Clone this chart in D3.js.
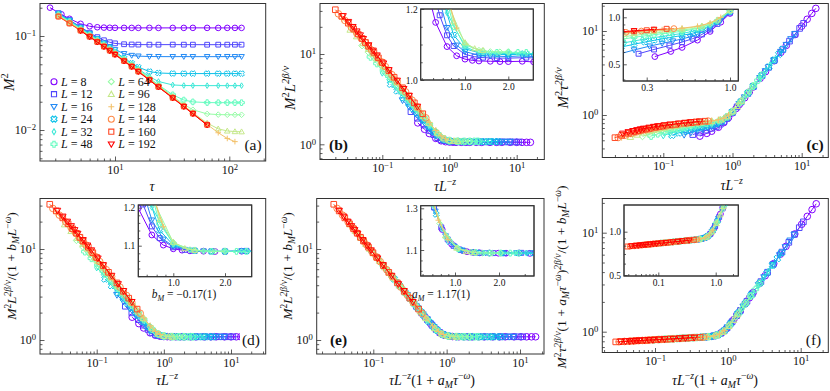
<!DOCTYPE html>
<html>
<head>
<meta charset="utf-8">
<script src="https://cdn.jsdelivr.net/npm/d3@7"></script>
<style>
body { margin: 0; background: #fff; }
svg, svg text, svg tspan { font-family: "Liberation Serif", "DejaVu Serif", serif !important; }
svg text { fill: #111; }
</style>
</head>
<body>
<script>
// raw data: M^2 against tau for each L
var L_values = [8, 12, 16, 24, 32, 48, 64, 96, 128, 144, 160, 192];
var marker_types = ['o', 's', 'v', 'X', 'd', 'P', 'D', '^', '+', 'o', 's', 'v'];
var tau_L8 = [2.7, 3.4, 4, 5, 6, 7, 8, 9, 10, 12, 14, 16, 20, 24, 32, 40, 48, 64, 80, 96, 112, 128];
var tau_all = [3.2, 4, 5, 6, 7, 8, 9, 10, 12, 14, 16, 20, 24, 32, 40, 48, 64, 80, 96, 112, 128];
var tau_L192 = [5, 6, 7, 8, 9, 10, 12, 14, 16, 20, 24, 32, 40, 48, 64];

var m2_L8 = [0.2002, 0.1701, 0.1525, 0.1348, 0.1269, 0.1239, 0.1228, 0.1224, 0.1222, 0.1221, 0.1220, 0.1220, 0.1221, 0.1219, 0.1220, 0.1220, 0.1221, 0.1220, 0.1219, 0.1220, 0.1220, 0.1220];
var m2_L12 = [0.1751, 0.1480, 0.1246, 0.1084, 0.0972, 0.0901, 0.0858, 0.0835, 0.0817, 0.0812, 0.0810, 0.0809, 0.0809, 0.0810, 0.0809, 0.0809, 0.0808, 0.0809, 0.0809, 0.0809, 0.0809];
var m2_L16 = [0.1739, 0.1469, 0.1233, 0.1064, 0.0938, 0.0843, 0.0770, 0.0715, 0.0649, 0.0621, 0.0611, 0.06048, 0.06037, 0.0603, 0.0604, 0.0603, 0.0603, 0.0603, 0.0604, 0.0603, 0.0603];
var m2_L24 = [0.1720, 0.1453, 0.1218, 0.1051, 0.0924, 0.0826, 0.0747, 0.0682, 0.0583, 0.0514, 0.04665, 0.04187, 0.04043, 0.0399, 0.03984, 0.03983, 0.03985, 0.03983, 0.03982, 0.03983, 0.03983];
var m2_L32 = [0.1705, 0.1440, 0.1208, 0.1042, 0.0916, 0.0818, 0.0740, 0.0675, 0.0575, 0.05018, 0.04458, 0.03698, 0.03281, 0.03015, 0.02974, 0.02966, 0.02964, 0.02965, 0.02964, 0.02963, 0.02964];
var m2_L48 = [0.1682, 0.1421, 0.1192, 0.1028, 0.0904, 0.0807, 0.0730, 0.0666, 0.0567, 0.04942, 0.04377, 0.03569, 0.03021, 0.02369, 0.02084, 0.01991, 0.01958, 0.01953, 0.01954, 0.01953, 0.01953];
var m2_L64 = [0.1665, 0.1406, 0.1180, 0.1017, 0.0895, 0.0799, 0.0723, 0.0659, 0.0561, 0.04892, 0.04333, 0.03529, 0.02979, 0.02284, 0.01874, 0.01642, 0.01483, 0.01458, 0.01453, 0.01452, 0.01452];
var m2_L96 = [0.1641, 0.1386, 0.1163, 0.1003, 0.0882, 0.0788, 0.0712, 0.0650, 0.0553, 0.04821, 0.0427, 0.03478, 0.02935, 0.02246, 0.01816, 0.01529, 0.01185, 0.01029, 0.00977, 0.00962, 0.00958];
var m2_L128 = [0.1623, 0.1371, 0.1150, 0.0992, 0.0873, 0.0779, 0.0705, 0.0643, 0.0547, 0.0477, 0.04225, 0.03441, 0.02904, 0.02219, 0.01796, 0.0151, 0.01146, 0.00935, 0.00813, 0.00752];
var m2_L144 = [0.1616, 0.1365, 0.1145, 0.0987, 0.0869, 0.0776, 0.0701, 0.0640, 0.0545, 0.0475, 0.04205, 0.03425, 0.0289, 0.02209, 0.01788, 0.01502, 0.01139];
var m2_L160 = [0.1610, 0.1360, 0.1141, 0.0984, 0.0865, 0.0773, 0.0699, 0.0637, 0.0543, 0.0473, 0.0419, 0.03412, 0.02879, 0.02201, 0.01781, 0.01497, 0.01135];
var m2_L192 = [0.1133, 0.0977, 0.0859, 0.0767, 0.0694, 0.0633, 0.0539, 0.0470, 0.0416, 0.03388, 0.02859, 0.02185, 0.01768, 0.01486, 0.01126];
var m2_values = [m2_L8, m2_L12, m2_L16, m2_L24, m2_L32, m2_L48, m2_L64, m2_L96, m2_L128, m2_L144, m2_L160, m2_L192];
var tau_lists = [tau_L8, tau_all, tau_all, tau_all, tau_all, tau_all, tau_all, tau_all, tau_all, tau_all, tau_all, tau_L192];

// scaling exponents and correction amplitudes used in panels (b)-(f)
var twoBetaNu = 1.036;
var zExp = 1.0;
var omega = 0.83;
var aM = 1.17;
var bM = -0.17;

var FONT = '"Liberation Serif", "DejaVu Serif", serif';
var W = 830, H = 391;
var svg = d3.select('body').append('svg')
    .attr('width', W)
    .attr('height', H)
    .attr('font-family', FONT);
var defs = svg.append('defs');

// matplotlib-like "rainbow" colormap
var rainbow = function(t) {
    var r = Math.min(1, Math.abs(2 * t - 0.5));
    var g = Math.sin(Math.PI * t);
    var b = Math.cos(Math.PI * t / 2);
    return d3.rgb(r * 255, g * 255, b * 255).formatHex();
};
var color = d3.scaleOrdinal()
    .domain(L_values)
    .range(L_values.map(function(d, i) { return rainbow(i / (L_values.length - 1)); }));

var series = L_values.map(function(L, i) {
    var m2 = m2_values[i];
    var tau = tau_lists[i].slice(0, m2.length);
    return {
        L: L,
        marker: marker_types[i],
        pts: tau.map(function(t, k) { return {tau: t, m2: m2[k]}; })
    };
});

var markerPath = function(type, s) {
    var w = s * 0.38;
    if (type === 'o') return 'M' + s + ',0A' + s + ',' + s + ',0,1,1,' + (-s) + ',0A' + s + ',' + s + ',0,1,1,' + s + ',0Z';
    if (type === 's') { var q = s * 0.85; return 'M' + (-q) + ',' + (-q) + 'H' + q + 'V' + q + 'H' + (-q) + 'Z'; }
    if (type === 'v') return 'M0,' + s + 'L' + (-s) + ',' + (-s * 0.75) + 'L' + s + ',' + (-s * 0.75) + 'Z';
    if (type === '^') return 'M0,' + (-s) + 'L' + (-s) + ',' + (s * 0.75) + 'L' + s + ',' + (s * 0.75) + 'Z';
    if (type === 'd') return 'M0,' + (-s) + 'L' + (s * 0.6) + ',0L0,' + s + 'L' + (-s * 0.6) + ',0Z';
    if (type === 'D') return 'M0,' + (-s) + 'L' + s + ',0L0,' + s + 'L' + (-s) + ',0Z';
    if (type === '+') return 'M' + (-s) + ',0H' + s + 'M0,' + (-s) + 'V' + s;
    // plus-filled outline, rotated 45 degrees for 'X'
    var p = [[-w, -s], [w, -s], [w, -w], [s, -w], [s, w], [w, w], [w, s], [-w, s], [-w, w], [-s, w], [-s, -w], [-w, -w]];
    if (type === 'X') {
        var c = Math.SQRT1_2;
        p = p.map(function(v) { return [(v[0] - v[1]) * c * 1.05, (v[0] + v[1]) * c * 1.05]; });
    }
    return 'M' + p.map(function(v) { return v[0].toFixed(2) + ',' + v[1].toFixed(2); }).join('L') + 'Z';
};

// build a scale from two tick positions
var makeScale = function(isLog, v1, p1, v2, p2, pA, pB) {
    var f = isLog ? Math.log10 : function(v) { return v; };
    var inv = isLog ? function(v) { return Math.pow(10, v); } : function(v) { return v; };
    var k = (f(v2) - f(v1)) / (p2 - p1);
    var dA = inv(f(v1) + (pA - p1) * k);
    var dB = inv(f(v1) + (pB - p1) * k);
    return (isLog ? d3.scaleLog() : d3.scaleLinear()).domain([dA, dB]).range([pA, pB]);
};

// math-style text: parts are [text, flags]; flags: i italic, ^ superscript, _ subscript
var mathText = function(textSel, parts, size) {
    var cur = 0;
    textSel.style('font-family', FONT);
    parts.forEach(function(p) {
        var fl = p[1] || '';
        var small = fl.indexOf('^') >= 0 || fl.indexOf('_') >= 0;
        var target = fl.indexOf('^') >= 0 ? -0.4 * size : (fl.indexOf('_') >= 0 ? 0.22 * size : 0);
        textSel.append('tspan')
            .attr('dy', (target - cur).toFixed(2))
            .style('font-size', (small ? 0.7 * size : size) + 'px')
            .style('font-style', fl.indexOf('i') >= 0 ? 'italic' : 'normal')
            .text(p[0]);
        cur = target;
    });
};

var decades = function(scale) {
    var d = scale.domain(), lo = Math.min(d[0], d[1]), hi = Math.max(d[0], d[1]);
    var major = [], minor = [];
    for (var e = Math.floor(Math.log10(lo)); e <= Math.ceil(Math.log10(hi)); e++) {
        for (var m = 1; m < 10; m++) {
            var v = m * Math.pow(10, e);
            if (v < lo || v > hi) continue;
            if (m === 1) major.push(v); else minor.push(v);
        }
    }
    return {major: major, minor: minor};
};

var powLabel = function(sel) {
    sel.each(function(d) {
        var t = d3.select(this);
        var e = Math.round(Math.log10(d));
        t.text('');
        t.append('tspan').text('10');
        t.append('tspan').attr('dy', '-0.45em').style('font-size', '0.72em')
            .text(e < 0 ? '\u2212' + (-e) : '' + e);
    });
};

var drawTicks = function(g, box, xs, ys, xt, yt, opt) {
    var ax = g.append('g').attr('transform', 'translate(0,' + box[3] + ')');
    ax.call(d3.axisBottom(xs).tickValues(xt.minor).tickSize(-opt.minorLen).tickFormat(''));
    var axM = g.append('g').attr('transform', 'translate(0,' + box[3] + ')');
    axM.call(d3.axisBottom(xs).tickValues(xt.major).tickSize(-opt.majorLen).tickPadding(opt.pad).tickFormat(xt.fmt || function() { return ''; }));
    var ay = g.append('g').attr('transform', 'translate(' + box[0] + ',0)');
    ay.call(d3.axisLeft(ys).tickValues(yt.minor).tickSize(-opt.minorLen).tickFormat(''));
    var ayM = g.append('g').attr('transform', 'translate(' + box[0] + ',0)');
    ayM.call(d3.axisLeft(ys).tickValues(yt.major).tickSize(-opt.majorLen).tickPadding(opt.pad).tickFormat(yt.fmt || function() { return ''; }));
    [ax, axM, ay, ayM].forEach(function(a) {
        a.attr('font-family', FONT);
        a.select('.domain').remove();
        a.selectAll('line').attr('stroke', '#333').attr('stroke-width', 0.8);
        a.selectAll('text').style('font-size', opt.font + 'px').style('font-family', FONT).attr('fill', '#111');
    });
    if (!xt.fmt) powLabel(axM.selectAll('text'));
    if (!yt.fmt) powLabel(ayM.selectAll('text'));
};

var clipCount = 0;
var drawData = function(g, box, xs, ys, fx, fy, size) {
    var id = 'clip' + (clipCount++);
    defs.append('clipPath').attr('id', id).append('rect')
        .attr('x', box[0]).attr('y', box[2]).attr('width', box[1] - box[0]).attr('height', box[3] - box[2]);
    var inner = g.append('g').attr('clip-path', 'url(#' + id + ')');
    series.forEach(function(s) {
        var pts = s.pts.map(function(p) { return [xs(fx(p, s.L)), ys(fy(p, s.L))]; });
        var sg = inner.append('g');
        sg.append('path')
            .attr('d', d3.line()(pts))
            .attr('fill', 'none')
            .attr('stroke', color(s.L))
            .attr('stroke-width', 1);
        sg.selectAll('path.mk')
            .data(pts)
            .enter()
            .append('path')
            .classed('mk', true)
            .attr('transform', function(d) { return 'translate(' + d[0] + ',' + d[1] + ')'; })
            .attr('d', markerPath(s.marker, size))
            .attr('fill', 'none')
            .attr('stroke', color(s.L))
            .attr('stroke-width', 1);
    });
};

var frame = function(g, box, fill) {
    return g.append('rect')
        .attr('x', box[0]).attr('y', box[2])
        .attr('width', box[1] - box[0]).attr('height', box[3] - box[2])
        .attr('fill', fill || 'none')
        .attr('stroke', '#333')
        .attr('stroke-width', 1);
};

// transforms of the raw data
var xTau = function(p, L) { return p.tau; };
var yM2 = function(p, L) { return p.m2; };
var xScaled = function(p, L) { return p.tau * Math.pow(L, -zExp); };
var xCorr = function(p, L) { return p.tau * Math.pow(L, -zExp) * (1 + aM * Math.pow(p.tau, -omega)); };
var yL = function(p, L) { return p.m2 * Math.pow(L, twoBetaNu); };
var yTau = function(p, L) { return p.m2 * Math.pow(p.tau, twoBetaNu); };
var yLcorr = function(p, L) { return p.m2 * Math.pow(L, twoBetaNu) / (1 + bM * Math.pow(L, -omega)); };
var yTauCorr = function(p, L) {
    return p.m2 * Math.pow(p.tau, twoBetaNu) * Math.pow(1 + aM * Math.pow(p.tau, -omega), twoBetaNu) / (1 + bM * Math.pow(L, -omega));
};

var fmtFixed = function(d) { return d3.format('.1f')(d); };

var panels = [
    {id: '(a)', bold: false, box: [40, 265.7, 3.5, 161], xs: [10, 115, 100, 229.3], ys: [0.1, 36, 0.01, 130],
        fx: xTau, fy: yM2, lab: [253, 150], ylSize: 15,
        xl: [[['τ', 'i']], 152, 191], yl: [[['M', 'i'], ['2', '^']], 14, 82]},
    {id: '(b)', bold: true, box: [320, 544.3, 3.5, 159.5], xs: [0.1, 382.3, 10, 516.7], ys: [10, 54, 1, 144.3],
        fx: xScaled, fy: yL, lab: [338.5, 150], ylSize: 15,
        xl: [[['τL', 'i'], ['\u2212', '^'], ['z', '^i']], 445, 191], yl: [[['M', 'i'], ['2', '^'], ['L', 'i'], ['2β/ν', '^i']], 295, 88],
        inset: {box: [420.7, 533.3, 9, 80], xs: [1, 465, 2, 508.3], ys: [1.0, 80, 1.2, 9], ylog: false,
            xt: {major: [1, 2], minor: [0.5, 0.6, 0.7, 0.8, 0.9]}, yt: {major: [1.0, 1.2], minor: [1.05, 1.1, 1.15]}}},
    {id: '(c)', bold: true, box: [602.3, 828.3, 3.5, 157.5], xs: [0.1, 663.3, 10, 801.7], ys: [10, 31, 1, 115],
        fx: xScaled, fy: yTau, lab: [815, 150], ylSize: 15,
        xl: [[['τL', 'i'], ['\u2212', '^'], ['z', '^i']], 731.7, 190], yl: [[['M', 'i'], ['2', '^'], ['τ', 'i'], ['2β/ν', '^i']], 568, 88],
        inset: {box: [623.3, 738.3, 9.3, 81], xs: [0.3, 646.7, 1, 730], ys: [1, 17.3, 0.5, 64.3], ylog: true,
            xt: {major: [0.3, 1], minor: [0.4, 0.5, 0.6, 0.7, 0.8, 0.9]}, yt: {major: [0.5, 1.0], minor: [0.4, 0.6, 0.7, 0.8, 0.9]}}},
    {id: '(d)', bold: false, box: [40, 265.7, 198.5, 354], xs: [0.1, 96.7, 10, 231], ys: [10, 249, 1, 340],
        fx: xScaled, fy: yLcorr, lab: [251, 345], labBg: true, ylSize: 13.5,
        xl: [[['τL', 'i'], ['\u2212', '^'], ['z', '^i']], 167, 385],
        yl: [[['M', 'i'], ['2', '^'], ['L', 'i'], ['2β/ν', '^i'], ['/(1 + ', ''], ['b', 'i'], ['M', '_i'], ['L', 'i'], ['\u2212', '^'], ['ω', '^i'], [')', '']], 16, 266],
        inset: {box: [138.3, 251.7, 205, 276.7], xs: [1, 173.3, 2, 225], ys: [1.2, 207.7, 1.1, 245.7], ylog: false,
            xt: {major: [1, 2], minor: [0.7, 0.8, 0.9]}, yt: {major: [1.1, 1.2], minor: [1.02, 1.04, 1.06, 1.08, 1.12, 1.14, 1.16, 1.18]},
            note: [[['b', 'i'], ['M', '_i'], [' = \u22120.17(1)', '']], 184, 298]}},
    {id: '(e)', bold: true, box: [316.7, 544, 198.5, 354], xs: [0.1, 373.3, 10, 520], ys: [10, 249, 1, 340],
        fx: xCorr, fy: yLcorr, lab: [338.5, 345], ylSize: 13.5,
        xl: [[['τL', 'i'], ['\u2212', '^'], ['z', '^i'], ['(1 + ', ''], ['a', 'i'], ['M', '_i'], ['τ', 'i'], ['\u2212', '^'], ['ω', '^i'], [')', '']], 432, 385],
        yl: [[['M', 'i'], ['2', '^'], ['L', 'i'], ['2β/ν', '^i'], ['/(1 + ', ''], ['b', 'i'], ['M', '_i'], ['L', 'i'], ['\u2212', '^'], ['ω', '^i'], [')', '']], 292, 266],
        inset: {box: [420.7, 534, 205.7, 276], xs: [1, 455, 2, 499], ys: [1.3, 208.3, 1.1, 250], ylog: false,
            xt: {major: [1, 2], minor: [0.6, 0.7, 0.8, 0.9, 3]}, yt: {major: [1.1, 1.3], minor: [1.0, 1.05, 1.15, 1.2, 1.25]},
            note: [[['a', 'i'], ['M', '_i'], [' = 1.17(1)', '']], 441, 298]}},
    {id: '(f)', bold: false, box: [602.3, 828.3, 198.5, 352.5], xs: [0.1, 655, 10, 800.7], ys: [10, 232.7, 1, 331.7],
        fx: xCorr, fy: yTauCorr, lab: [813.5, 345], ylSize: 13.5,
        xl: [[['τL', 'i'], ['\u2212', '^'], ['z', '^i'], ['(1 + ', ''], ['a', 'i'], ['M', '_i'], ['τ', 'i'], ['\u2212', '^'], ['ω', '^i'], [')', '']], 715, 385],
        yl: [[['M', 'i'], ['2', '^'], ['τ', 'i'], ['2β/ν', '^i'], ['(1 + ', ''], ['a', 'i'], ['M', '_i'], ['τ', 'i'], ['\u2212', '^'], ['ω', '^i'], [')', ''], ['2β/ν', '^i'],
            ['/(1 + ', ''], ['b', 'i'], ['M', '_i'], ['L', 'i'], ['\u2212', '^'], ['ω', '^i'], [')', '']], 566, 277],
        inset: {box: [624, 738.3, 205, 276], xs: [0.1, 658.3, 1, 715.7], ys: [1, 231.7, 0.5, 275], ylog: true,
            xt: {major: [0.1, 1], minor: [0.03, 0.04, 0.05, 0.06, 0.07, 0.08, 0.09, 2]}, yt: {major: [0.5, 1.0], minor: [0.6, 0.7, 0.8, 0.9]}}}
];

panels.forEach(function(P) {
    var g = svg.append('g').classed('panel', true);
    var b = P.box;
    var xs = makeScale(true, P.xs[0], P.xs[1], P.xs[2], P.xs[3], b[0], b[1]);
    var ys = makeScale(true, P.ys[0], P.ys[1], P.ys[2], P.ys[3], b[3], b[2]);

    drawData(g, b, xs, ys, P.fx, P.fy, P.id === '(a)' ? 2.8 : 3.3);
    var xt = decades(xs), yt = decades(ys);
    drawTicks(g, b, xs, ys, xt, yt, {majorLen: 4.5, minorLen: 2.5, pad: 4, font: 12});
    frame(g, b);

    // axis labels
    var xl = g.append('text').attr('x', P.xl[1]).attr('y', P.xl[2]).attr('text-anchor', 'middle');
    mathText(xl, P.xl[0], 14);
    var yl = g.append('text').attr('text-anchor', 'middle')
        .attr('transform', 'translate(' + P.yl[1] + ',' + P.yl[2] + ') rotate(-90)');
    mathText(yl, P.yl[0], P.ylSize);

    // inset
    if (P.inset) {
        var I = P.inset, ib = I.box;
        var ig = g.append('g').classed('inset', true);
        frame(ig, ib, '#fff');
        var ixs = makeScale(true, I.xs[0], I.xs[1], I.xs[2], I.xs[3], ib[0], ib[1]);
        var iys = makeScale(I.ylog, I.ys[0], I.ys[1], I.ys[2], I.ys[3], ib[3], ib[2]);
        drawData(ig, ib, ixs, iys, P.fx, P.fy, 2.9);
        I.xt.fmt = fmtFixed;
        I.yt.fmt = fmtFixed;
        drawTicks(ig, ib, ixs, iys, I.xt, I.yt, {majorLen: 3.5, minorLen: 2, pad: 3, font: 9.5});
        frame(ig, ib);
        if (I.note) {
            var nt = ig.append('text').attr('x', I.note[1]).attr('y', I.note[2]).attr('text-anchor', 'middle');
            mathText(nt, I.note[0], 11.5);
        }
    }

    // panel tag
    if (P.labBg) {
        g.append('rect').attr('x', P.lab[0] - 11).attr('y', P.lab[1] - 13).attr('width', 23).attr('height', 17).attr('fill', '#fff');
    }
    g.append('text')
        .attr('x', P.lab[0]).attr('y', P.lab[1])
        .attr('text-anchor', 'middle')
        .style('font-family', FONT)
        .style('font-size', '15.5px')
        .style('font-weight', P.bold ? 'bold' : 'normal')
        .text(P.id);
});

// legend for panel (a)
var legend = svg.append('g').classed('legend', true);
series.forEach(function(s, i) {
    var col = Math.floor(i / 6), row = i % 6;
    var mx = col === 0 ? 54 : 111.3;
    var my = 81.7 + row * 12.5;
    legend.append('path')
        .attr('transform', 'translate(' + mx + ',' + my + ')')
        .attr('d', markerPath(s.marker, 3))
        .attr('fill', 'none')
        .attr('stroke', color(s.L))
        .attr('stroke-width', 1.1);
    var t = legend.append('text')
        .attr('x', mx + 7)
        .attr('y', my + 4)
        .style('font-family', FONT)
        .style('font-size', '12px');
    t.append('tspan').style('font-style', 'italic').text('L');
    t.append('tspan').text(' = ' + s.L);
});
</script>
</body>
</html>
